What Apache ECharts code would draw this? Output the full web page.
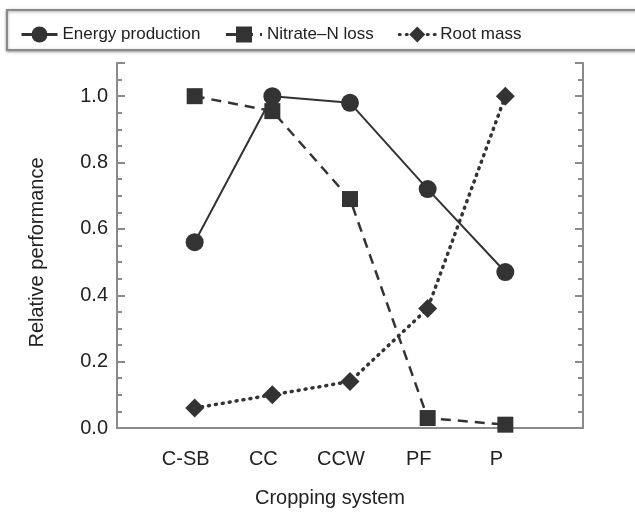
<!DOCTYPE html>
<html>
<head>
<meta charset="utf-8">
<script src="https://cdn.jsdelivr.net/npm/echarts@6/dist/echarts.min.js"></script>
<style>
  html, body { margin: 0; padding: 0; background: #fff; }
  #chart { width: 635px; height: 513px; }
</style>
</head>
<body>
<div id="chart"></div>
<script>
const categories = ['C-SB', 'CC', 'CCW', 'PF', 'P']
const energyProduction = [0.56, 1.0, 0.98, 0.72, 0.47]
const nitrateLoss = [1.0, 0.955, 0.69, 0.03, 0.01]
const rootMass = [0.06, 0.10, 0.14, 0.36, 1.0]
const yTickLabels = ['0.0', '0.2', '0.4', '0.6', '0.8', '1.0']

const ink = '#333'
const frame = '#8a8a8a'
const font = 'Liberation Sans, Arial, sans-serif'

function pairs(values) {
  return values.map((v, i) => [i + 1, v])
}

const chart = echarts.init(document.getElementById('chart'))

const yAxisBase = {
  type: 'value',
  min: 0,
  max: 1.1,
  interval: 0.2,
  axisLine: { show: true, lineStyle: { color: frame, width: 2 } },
  axisTick: { show: true, inside: true, length: 8, lineStyle: { color: frame, width: 2 } },
  minorTick: { show: true, splitNumber: 4, length: 5, lineStyle: { color: frame, width: 2 } },
  splitLine: { show: false }
}

chart.setOption({
  animation: false,
  textStyle: { fontFamily: font },
  graphic: [
    {
      type: 'rect',
      shape: { x: 7, y: 10, width: 640, height: 40 },
      style: { fill: '#fff', stroke: frame, lineWidth: 2, shadowBlur: 3, shadowColor: 'rgba(0,0,0,0.35)', shadowOffsetY: 1 },
      z: -1
    }
  ],
  legend: {
    left: 15,
    top: 21,
    itemWidth: 36,
    itemHeight: 20,
    itemGap: 24,
    itemTextGap: 3,
    lineStyle: { width: 3 },
    textStyle: { fontSize: 17, color: '#222', fontFamily: font },
    data: ['Energy production', 'Nitrate–N loss', 'Root mass']
  },
  grid: { left: 117, right: 52, top: 63, bottom: 75, show: false },
  xAxis: {
    type: 'value',
    min: 0,
    max: 6,
    interval: 1,
    name: 'Cropping system',
    nameLocation: 'middle',
    nameGap: 60,
    nameTextStyle: { fontSize: 20, color: '#222', padding: [0, 40, 0, 0] },
    axisLine: { show: true, onZero: false, lineStyle: { color: frame, width: 2 } },
    axisTick: { show: false },
    splitLine: { show: false },
    axisLabel: {
      fontSize: 20,
      color: '#222',
      margin: 21,
      padding: [0, 18, 0, 0],
      formatter: v => categories[v - 1] || ''
    }
  },
  yAxis: [
    Object.assign({}, yAxisBase, {
      position: 'left',
      name: 'Relative performance',
      nameLocation: 'middle',
      nameGap: 70,
      nameTextStyle: { fontSize: 20, color: '#222', padding: [0, 14, 0, 0] },
      axisLabel: {
        fontSize: 20,
        color: '#222',
        margin: 9,
        formatter: v => {
          const i = Math.round(v / 0.2)
          return Math.abs(v - i * 0.2) < 1e-6 && yTickLabels[i] ? yTickLabels[i] : ''
        }
      }
    }),
    Object.assign({}, yAxisBase, {
      position: 'right',
      axisLabel: { show: false }
    })
  ],
  series: [
    {
      name: 'Energy production',
      type: 'line',
      data: pairs(energyProduction),
      symbol: 'circle',
      symbolSize: 18,
      itemStyle: { color: ink },
      lineStyle: { color: ink, width: 2 },
      z: 3
    },
    {
      name: 'Nitrate–N loss',
      type: 'line',
      data: pairs(nitrateLoss),
      symbol: 'rect',
      symbolSize: 16,
      itemStyle: { color: ink },
      lineStyle: { color: ink, width: 2.5, type: [10, 7] },
      z: 2
    },
    {
      name: 'Root mass',
      type: 'line',
      data: pairs(rootMass),
      symbol: 'diamond',
      symbolSize: [19, 19],
      itemStyle: { color: ink },
      lineStyle: { color: ink, width: 3.5, type: [1, 6], cap: 'round' },
      z: 2
    }
  ]
})
</script>
</body>
</html>
